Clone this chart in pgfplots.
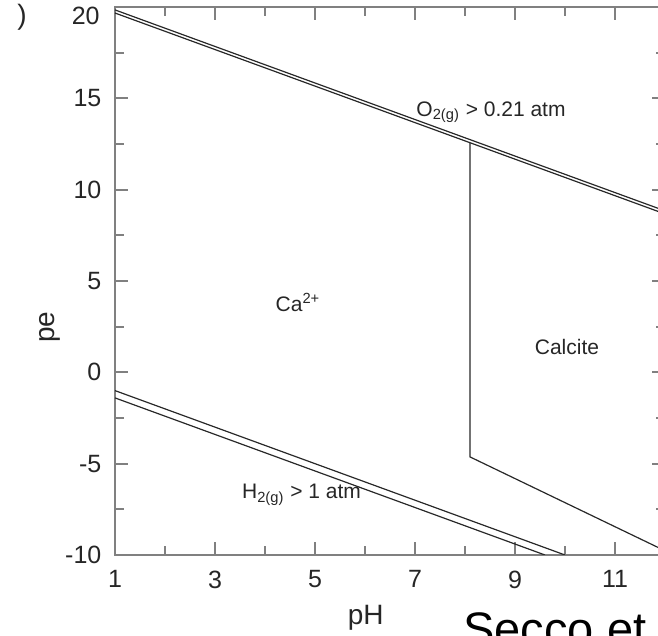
\documentclass[border=0pt]{standalone}
\usepackage{pgfplots}
\pgfplotsset{compat=1.18}
\usepackage{fontspec}
\setmainfont{Liberation Sans}
\definecolor{axgray}{RGB}{128,128,128}
\definecolor{ln}{RGB}{40,40,40}
\begin{document}
\begin{tikzpicture}
\begin{axis}[
  name=ax,
  scale only axis,
  width=275pt, height=274pt,
  xmin=1, xmax=12, ymin=-10, ymax=20,
  xtick={1,3,5,7,9,11},
  ytick={-10,-5,0,5,10,15,20},
  yticklabels={-10,-5,0,5,10,15,{}},
  minor x tick num=1,
  minor y tick num=1,
  tick pos=both,
  tick align=inside,
  major tick length=6.5pt,
  minor tick length=4.5pt,
  axis line style={axgray, line width=1pt},
  every tick/.style={axgray, line width=0.9pt},
  /pgf/number format/assume math mode=true,
  ticklabel style={font=\fontsize{12.5}{14}\selectfont, text=black!85},
  xticklabel style={yshift=-4.3pt},
  yticklabel style={xshift=-3.3pt},
  xlabel={pH}, ylabel={pe},
  label style={font=\fontsize{14}{16}\selectfont, text=black!85},
  xlabel style={at={(axis description cs:0.456,-0.115)}, anchor=center},
  ylabel style={at={(axis description cs:-0.118,0.416)}, anchor=center},
]
% O2 boundary (double line)
\addplot[ln, line width=0.6pt] coordinates {(1,19.84) (12,8.84)};
\addplot[ln, line width=0.6pt] coordinates {(1,19.67) (12,8.67)};
% H2 boundary (double line)
\addplot[ln, line width=0.6pt] coordinates {(1,-1.0) (10.0,-10.0)};
\addplot[ln, line width=0.6pt] coordinates {(1,-1.4) (9.6,-10.0)};
% Ca2+ / Calcite boundary
\addplot[ln, line width=0.6pt] coordinates {(8.1,12.57) (8.1,-4.63) (12,-9.77)};
\node[font=\fontsize{10.5}{12}\selectfont, text=black!85] at (axis cs:8.52,14.25) {O\textsubscript{2(g)} > 0.21 atm};
\node[font=\fontsize{10.5}{12}\selectfont, text=black!85] at (axis cs:4.73,-6.71) {H\textsubscript{2(g)} > 1 atm};
\node[font=\fontsize{10.5}{12}\selectfont, text=black!85] at (axis cs:4.66,3.8) {Ca\textsuperscript{2+}};
\node[font=\fontsize{10.5}{12}\selectfont, text=black!85] at (axis cs:10.04,1.39) {Calcite};
\end{axis}
\node[font=\fontsize{12.5}{14}\selectfont, text=black!85, anchor=north east, inner sep=0pt] at ([xshift=-7.5pt]ax.north west) {20};
\node[font=\fontsize{14}{16}\selectfont, text=black!85] at ([shift={(-46.5pt,269pt)}]ax.south west) {)};
\node[font=\fontsize{23.5}{26}\selectfont, anchor=base west, inner sep=0pt] at ([shift={(174pt,-45.5pt)}]ax.south west) {Secco et};
\pgfresetboundingbox
\path[use as bounding box] (ax.south west) ++(-57.5pt,-40.5pt) rectangle ++(329pt,318pt);
\end{tikzpicture}
\end{document}
